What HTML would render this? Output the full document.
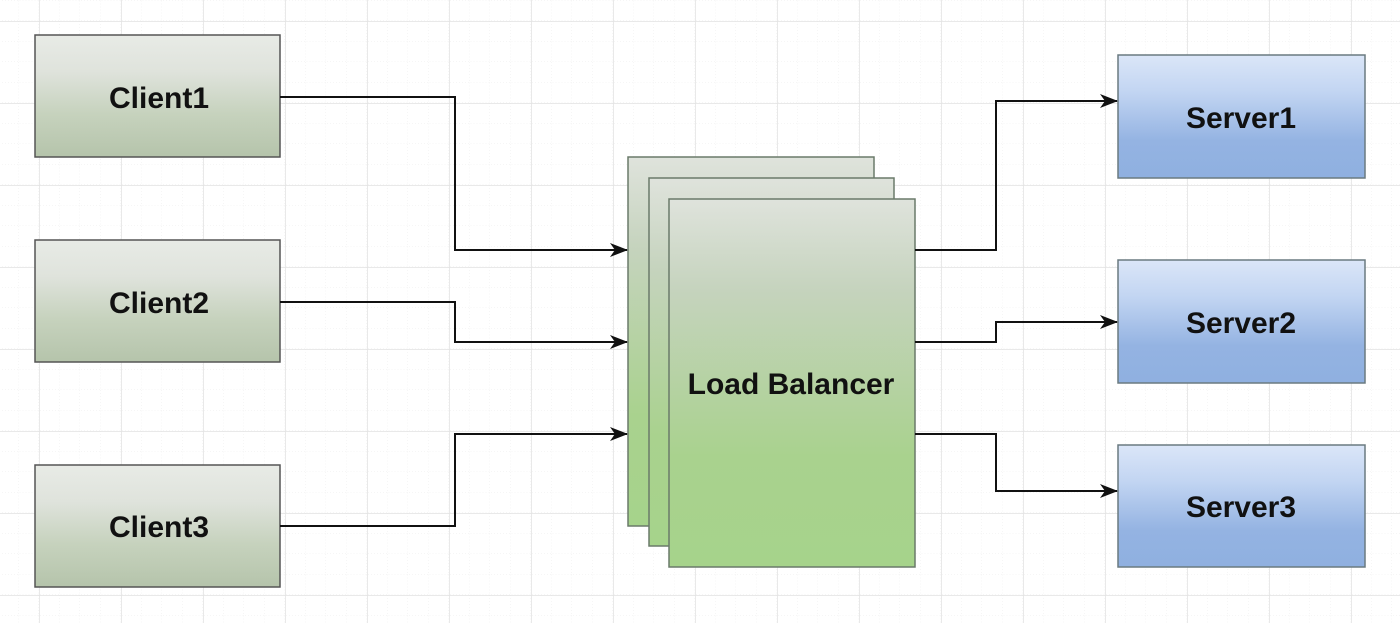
<!DOCTYPE html>
<html><head><style>
body{margin:0;width:1400px;height:623px;overflow:hidden;background:#fff;font-family:"Liberation Sans",sans-serif}
</style></head><body>
<svg width="1400" height="623" xmlns="http://www.w3.org/2000/svg">
<defs>
<pattern id="minor" x="39" y="21" width="20.5" height="20.5" patternUnits="userSpaceOnUse"><path d="M20.5 0V20.5H0" fill="none" stroke="#eee" stroke-width="1" stroke-dasharray="1,2"/></pattern>
<pattern id="major" x="39" y="21" width="82" height="82" patternUnits="userSpaceOnUse"><path d="M0 0V82M0 0H82" fill="none" stroke="#e2e2e2" stroke-width="1.5"/></pattern>
<linearGradient id="gc" x1="0" y1="0" x2="0" y2="1"><stop offset="0" stop-color="#e8ebe6"/><stop offset="0.3" stop-color="#dfe3dc"/><stop offset="0.65" stop-color="#c6d2bd"/><stop offset="1" stop-color="#b5c4ab"/></linearGradient>
<linearGradient id="gl" x1="0" y1="0" x2="0" y2="1"><stop offset="0" stop-color="#dfe3dc"/><stop offset="0.25" stop-color="#c5d3bd"/><stop offset="0.7" stop-color="#a9d28e"/><stop offset="1" stop-color="#a6d38b"/></linearGradient>
<linearGradient id="gs" x1="0" y1="0" x2="0" y2="1"><stop offset="0" stop-color="#dbe6f8"/><stop offset="0.3" stop-color="#c2d5f2"/><stop offset="0.7" stop-color="#94b3e2"/><stop offset="1" stop-color="#8fb0e0"/></linearGradient>
<marker id="ar" markerWidth="18" markerHeight="14" refX="17" refY="7" orient="auto" markerUnits="userSpaceOnUse"><path d="M0 0L18 7L0 14L5 7Z" fill="#111"/></marker>
</defs>
<rect width="1400" height="623" fill="url(#minor)"/>
<rect width="1400" height="623" fill="url(#major)"/>
<g stroke="#555" stroke-width="1.5">
<rect x="35" y="35" width="245" height="122" fill="url(#gc)"/>
<rect x="35" y="240" width="245" height="122" fill="url(#gc)"/>
<rect x="35" y="465" width="245" height="122" fill="url(#gc)"/>
<rect x="628" y="157" width="246" height="369" fill="url(#gl)" stroke="#6a7a6a"/>
<rect x="649" y="178" width="245" height="368" fill="url(#gl)" stroke="#6a7a6a"/>
<rect x="669" y="199" width="246" height="368" fill="url(#gl)" stroke="#6a7a6a"/>
<rect x="1118" y="55" width="247" height="123" fill="url(#gs)" stroke="#6a7a80"/>
<rect x="1118" y="260" width="247" height="123" fill="url(#gs)" stroke="#6a7a80"/>
<rect x="1118" y="445" width="247" height="122" fill="url(#gs)" stroke="#6a7a80"/>
</g>
<g fill="none" stroke="#111" stroke-width="2" marker-end="url(#ar)">
<path d="M280 97H455V250H627"/>
<path d="M280 302H455V342H627"/>
<path d="M280 526H455V434H627"/>
<path d="M915 250H996V101H1117"/>
<path d="M915 342H996V322H1117"/>
<path d="M915 434H996V491H1117"/>
</g>
<g font-family="Liberation Sans, sans-serif" font-weight="bold" font-size="30" fill="#111" text-anchor="middle">
<text x="159" y="108">Client1</text>
<text x="159" y="313">Client2</text>
<text x="159" y="537">Client3</text>
<text x="791" y="394">Load Balancer</text>
<text x="1241" y="128">Server1</text>
<text x="1241" y="333">Server2</text>
<text x="1241" y="517">Server3</text>
</g>
</svg>
</body></html>
